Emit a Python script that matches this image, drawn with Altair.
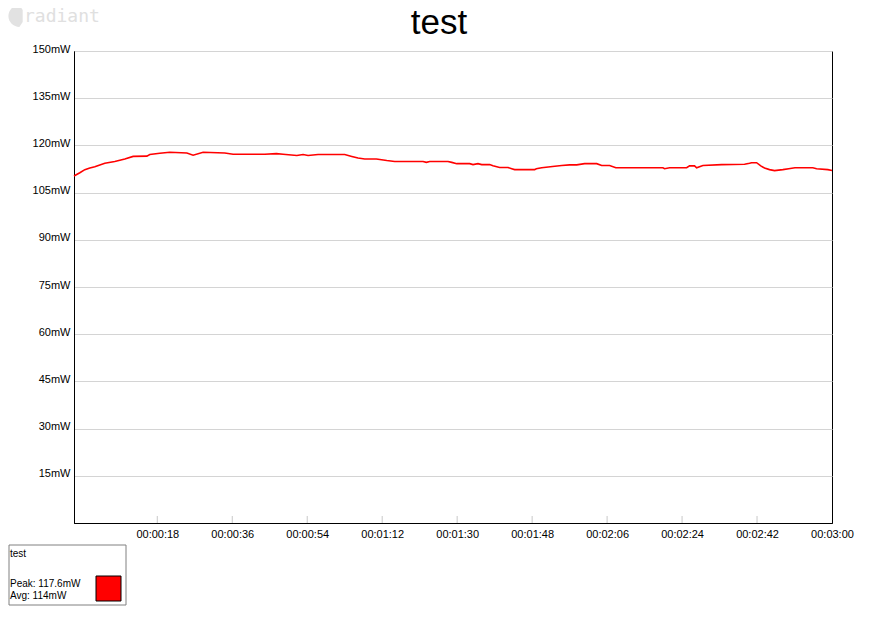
import altair as alt
import pandas as pd

# time (s) and power (mW)
times = [-2.0, -0.6, 0.6, 1.8, 3.0, 4.2, 5.4, 7.8, 10.2, 12.2, 15.5, 16.2, 18.6, 21.0, 25.1, 26.6,
         29.0, 34.2, 36.2, 43.8, 46.6, 48.2, 51.5, 53.0, 54.2, 56.6, 63.0, 64.7, 66.2, 67.8,
         70.6, 73.1, 75.0, 81.8, 82.6, 83.4, 87.8, 88.7, 89.9, 93.0, 93.8, 95.0, 95.9, 97.8,
         98.6, 100.2, 102.2, 103.1, 103.8, 108.6, 109.0, 110.3, 112.9, 115.1, 117.0, 118.7,
         120.6, 123.5, 124.7, 126.6, 128.1, 139.4, 139.8, 141.0, 145.1, 145.8, 147.0, 147.5,
         149.0, 153.5, 159.0, 160.2, 160.7, 161.9, 162.9, 163.8, 165.0, 166.2, 168.2, 169.6,
         171.1, 175.4, 176.3, 179.0, 180.0]
power = [110.3, 111.3, 112.3, 112.8, 113.2, 113.8, 114.3, 114.9, 115.7, 116.5, 116.6, 117.1, 117.5, 117.8, 117.6, 116.9,
         117.8, 117.6, 117.2, 117.2, 117.4, 117.2, 116.8, 117.1, 116.8, 117.1, 117.1, 116.5, 116.0, 115.7,
         115.7, 115.2, 114.9, 114.9, 114.6, 114.9, 114.9, 114.6, 114.2, 114.2, 113.9, 114.2, 113.9, 113.9,
         113.5, 113.0, 113.0, 112.6, 112.3, 112.3, 112.6, 112.9, 113.3, 113.6, 113.8, 113.8,
         114.2, 114.2, 113.6, 113.6, 112.9, 112.9, 112.6, 112.9, 112.9, 113.5, 113.5, 112.9,
         113.6, 113.9, 114.0, 114.3, 114.5, 114.5, 113.5, 112.8, 112.3, 112.0, 112.3, 112.6,
         112.9, 112.9, 112.6, 112.3, 112.0]

x_ticks = [18, 36, 54, 72, 90, 108, 126, 144, 162, 180]
y_ticks = [15, 30, 45, 60, 75, 90, 105, 120, 135, 150]

chart_title = "test"
logo_text = "radiant"
legend_name = "test"
legend_lines = ["Peak: 117.6mW", "Avg: 114mW"]

FONT = "Liberation Sans"
W, H = 758, 472

df = pd.DataFrame({"t": times, "p": power})
ticks_df = pd.DataFrame({"t": x_ticks[:-1]})
one = pd.DataFrame({"k": [0]})

xscale = alt.Scale(domain=[-2, 180], nice=False, zero=False)
yscale = alt.Scale(domain=[0, 150], nice=False)

x_axis = alt.Axis(values=x_ticks, labelExpr="utcFormat(datum.value*1000, '%H:%M:%S')",
                  ticks=False, grid=False, domainColor="black", labelColor="black",
                  labelFont=FONT, labelFontSize=11, labelPadding=5,
                  labelFlush=False, labelOverlap=False, title=None)

line = alt.Chart(df).mark_line(color="#ff0000", strokeWidth=1.6).encode(
    x=alt.X("t:Q", scale=xscale, title=None, axis=x_axis),
    y=alt.Y("p:Q", scale=yscale, title=None,
            axis=alt.Axis(values=y_ticks, labelExpr="datum.value + 'mW'", ticks=False,
                          grid=True, gridColor="#d4d4d4", domainColor="black",
                          labelColor="black", labelFont=FONT, labelFontSize=11,
                          labelBaseline="alphabetic", labelOffset=1, labelPadding=4)),
)

tick_marks = alt.Chart(ticks_df).mark_rule(color="#c8c8c8", strokeWidth=1).encode(
    x=alt.X("t:Q", scale=xscale, title=None, axis=x_axis),
    y=alt.value(H - 7), y2=alt.value(H),
)

title_mark = alt.Chart(one).mark_text(
    text=chart_title, font=FONT, fontSize=35, color="black", align="center", baseline="alphabetic"
).encode(x=alt.value(365), y=alt.value(-17))

logo_leaf = alt.Chart(one).mark_point(
    shape="M0.4,-1 A1,1 0 0,0 0.4,1 L0.7,0.55 L0.7,-0.55 Z", filled=True, color="#e2e2e2",
    opacity=1, size=480, strokeWidth=0
).encode(x=alt.value(-59), y=alt.value(-35))

logo = alt.Chart(one).mark_text(
    text=logo_text, font="DejaVu Sans Mono", fontSize=18, color="#e0e0e0", align="left",
    baseline="alphabetic"
).encode(x=alt.value(-50), y=alt.value(-29))

legend_box = alt.Chart(one).mark_rect(fill="white", stroke="#808080", strokeWidth=1).encode(
    x=alt.value(-65), x2=alt.value(52), y=alt.value(494), y2=alt.value(554)
)
legend_swatch = alt.Chart(one).mark_rect(fill="#ff0000", stroke="black", strokeWidth=1).encode(
    x=alt.value(22), x2=alt.value(47), y=alt.value(525), y2=alt.value(550)
)
legend_title = alt.Chart(one).mark_text(
    text=legend_name, font=FONT, fontSize=10, color="black", align="left", baseline="alphabetic"
).encode(x=alt.value(-64), y=alt.value(506))
legend_peak = alt.Chart(one).mark_text(
    text=legend_lines[0], font=FONT, fontSize=10, color="black", align="left", baseline="alphabetic"
).encode(x=alt.value(-64), y=alt.value(536))
legend_avg = alt.Chart(one).mark_text(
    text=legend_lines[1], font=FONT, fontSize=10, color="black", align="left", baseline="alphabetic"
).encode(x=alt.value(-64), y=alt.value(548))

chart = alt.layer(
    line, tick_marks, title_mark, logo_leaf, logo,
    legend_box, legend_swatch, legend_title, legend_peak, legend_avg
).properties(
    width=W, height=H,
    autosize=alt.AutoSizeParams(type="none"),
    padding={"left": 66, "top": 43, "right": 30, "bottom": 84},
    background="white",
).configure_view(stroke="black", strokeWidth=1)

chart.save("out.html", embed_options={"renderer": "svg", "actions": False})
